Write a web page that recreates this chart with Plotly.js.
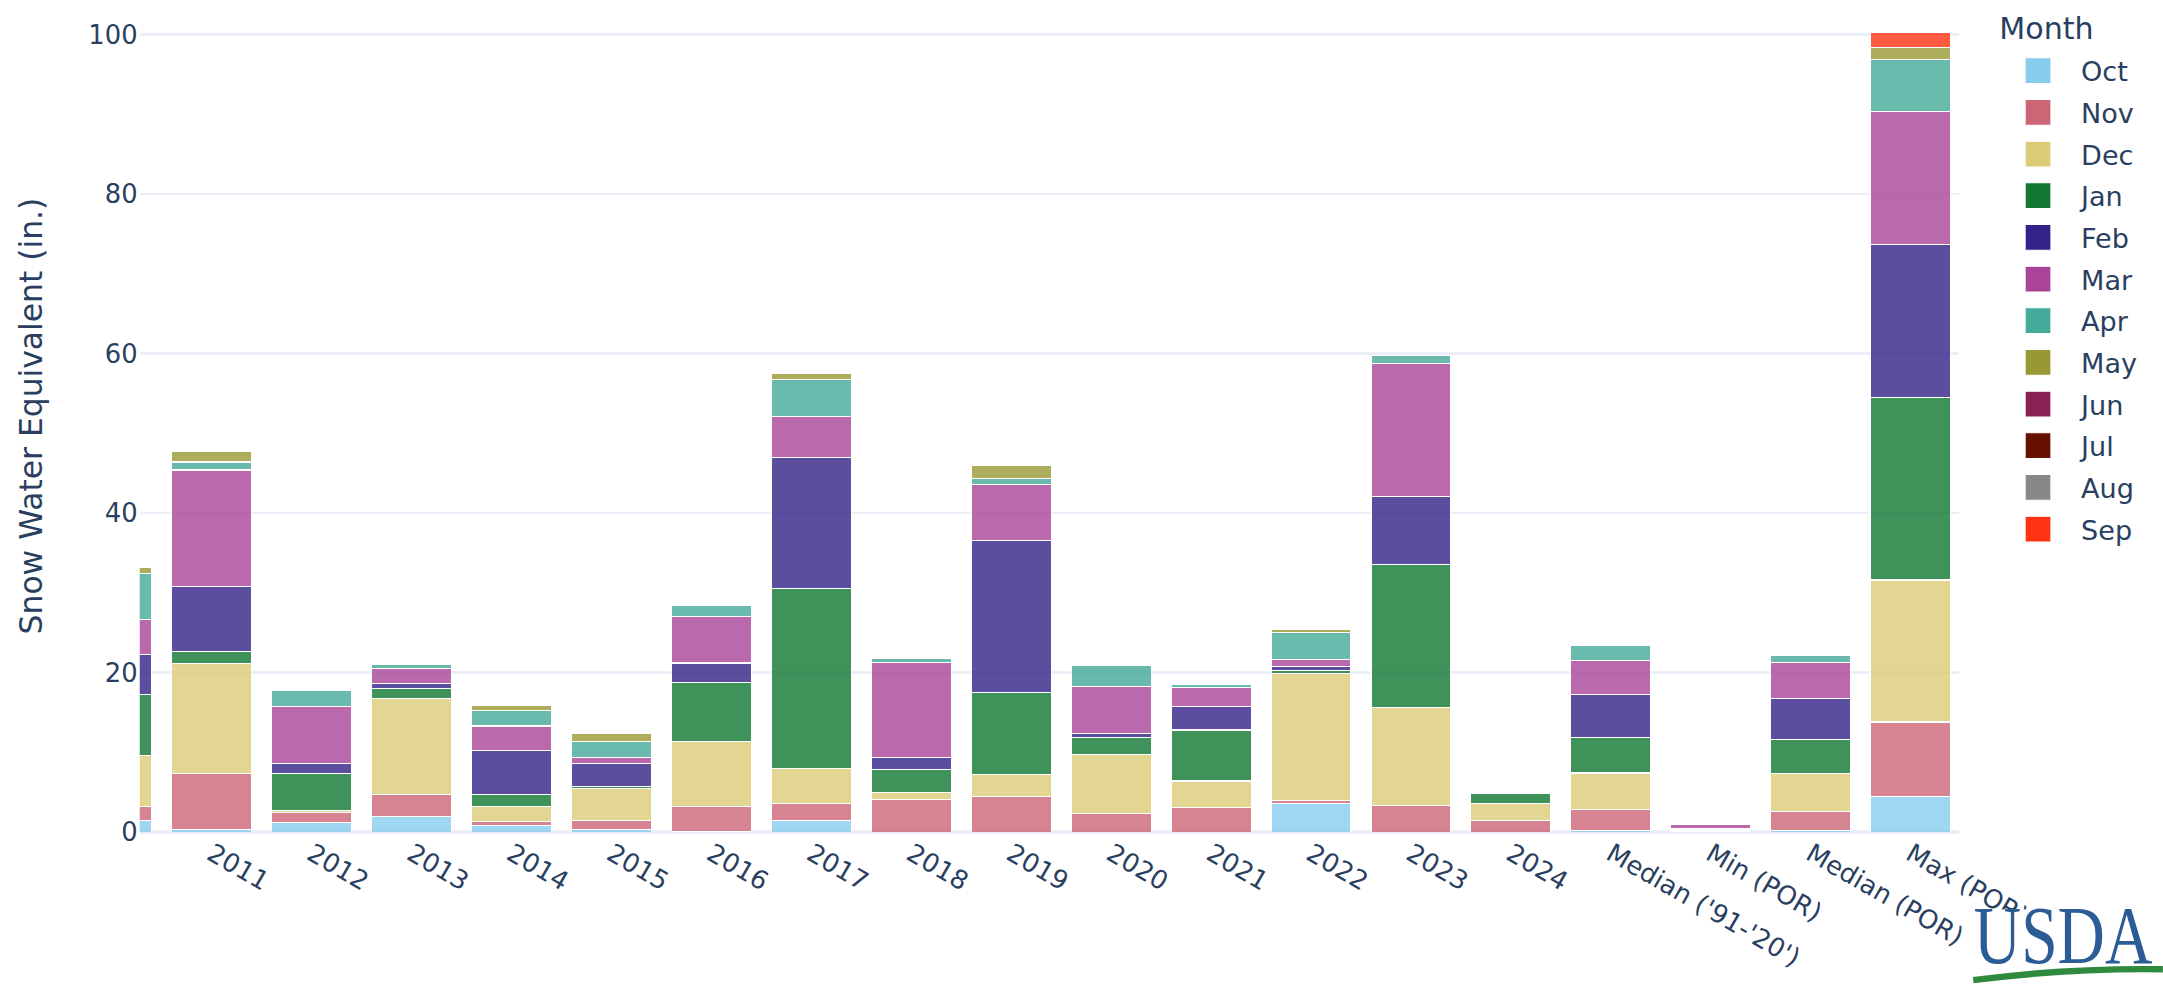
<!DOCTYPE html>
<html>
<head>
<meta charset="utf-8">
<script src="https://cdn.plot.ly/plotly-3.0.1.min.js"></script>
<style>
html, body { margin: 0; padding: 0; background: #ffffff; overflow: hidden; width: 2163px; height: 984px; }
#wrap { position: absolute; left: 0; top: 0; transform-origin: 0 0; }
</style>
</head>
<body>
<div id="wrap"><div id="chart"></div></div>
<script>
// ---- data (inches of SWE added per month) ----
const categories = ["2010", "2011", "2012", "2013", "2014", "2015", "2016", "2017", "2018", "2019",
  "2020", "2021", "2022", "2023", "2024", "Median ('91-'20')", "Min (POR)", "Median (POR)", "Max (POR)"];
const months = ["Oct", "Nov", "Dec", "Jan", "Feb", "Mar", "Apr", "May", "Jun", "Jul", "Aug", "Sep"];
const monthColors = ["#88CCEE", "#CC6677", "#DDCC77", "#117733", "#332288", "#AA4499",
  "#44AA99", "#999933", "#882255", "#661100", "#888888", "#FF3311"];

const octVals = [1.4, 0.3, 1.2, 1.9, 0.8, 0.3, 0.1, 1.5, 0, 0, 0, 0, 3.6, 0, 0, 0.2, 0.1, 0.2, 4.5];
const novVals = [1.8, 7.0, 1.3, 2.8, 0.5, 1.1, 3.1, 2.1, 4.1, 4.5, 2.3, 3.1, 0.4, 3.3, 1.5, 2.6, 0.1, 2.4, 9.3];
const decVals = [6.4, 13.8, 0.2, 12.0, 1.9, 4.1, 8.2, 4.4, 0.9, 2.7, 7.4, 3.3, 15.9, 12.3, 2.1, 4.6, 0.1, 4.7, 17.8];
const janVals = [7.6, 1.5, 4.6, 1.3, 1.5, 0.2, 7.4, 22.5, 2.8, 10.3, 2.2, 6.4, 0.3, 18.0, 1.3, 4.4, 0.1, 4.3, 22.9];
const febVals = [5.1, 8.2, 1.3, 0.6, 5.5, 2.9, 2.4, 16.5, 1.6, 19.1, 0.4, 2.9, 0.6, 8.5, 0, 5.4, 0.1, 5.2, 19.2];
const marVals = [4.4, 14.6, 7.1, 1.9, 3.1, 0.7, 5.8, 5.1, 11.9, 7.0, 5.9, 2.4, 0.8, 16.6, 0, 4.3, 0.4, 4.5, 16.6];
const aprVals = [5.7, 1.0, 2.1, 0.5, 2.0, 2.0, 1.4, 4.6, 0.5, 0.7, 2.7, 0.4, 3.4, 1.1, 0, 1.9, 0.1, 0.8, 6.6];
const mayVals = [0.8, 1.3, 0, 0, 0.6, 1.1, 0, 0.8, 0, 1.7, 0, 0, 0.4, 0, 0, 0, 0, 0, 1.5];
const junVals = [0, 0, 0, 0, 0, 0, 0, 0, 0, 0, 0, 0, 0, 0, 0, 0, 0, 0, 0];
const julVals = [0, 0, 0, 0, 0, 0, 0, 0, 0, 0, 0, 0, 0, 0, 0, 0, 0, 0, 0];
const augVals = [0, 0, 0, 0, 0, 0, 0, 0, 0, 0, 0, 0, 0, 0, 0, 0, 0, 0, 0];
const sepVals = [0, 0, 0, 0, 0, 0, 0, 0, 0, 0, 0, 0, 0, 0, 0, 0, 0, 0, 1.8];
const yTicks = [0, 20, 40, 60, 80, 100];

const series = [octVals, novVals, decVals, janVals, febVals, marVals,
  aprVals, mayVals, junVals, julVals, augVals, sepVals];

// ---- rendering ----
const S = 2.15;                 // page scale factor
const W = 2163 / S, H = 984 / S;
document.getElementById('wrap').style.transform = 'scale(' + S + ')';

const FONT = 'Verdana, "DejaVu Sans", sans-serif';
const TXT = '#2a3f5f';
const LOGO_FS = 32, LOGO_STRETCH = 1.19;

const traces = months.map((m, i) => ({
  type: 'bar',
  name: m,
  x: categories,
  y: series[i],
  marker: { color: monthColors[i], opacity: 0.8, line: { color: '#ffffff', width: 0.5 } },
  hoverinfo: 'skip'
}));

const mL = 139 / S, mR = W - 1959 / S, mT = 0, mB = H - 831.5 / S;

const layout = {
  width: W, height: H,
  margin: { l: mL, r: mR, t: mT, b: mB, autoexpand: false },
  barmode: 'stack',
  bargap: 0.2,
  paper_bgcolor: '#ffffff',
  plot_bgcolor: '#ffffff',
  font: { family: FONT, size: 12, color: TXT },
  showlegend: true,
  legend: {
    title: { text: 'Month', font: { family: FONT, size: 14, color: TXT } },
    font: { family: FONT, size: 12.6, color: TXT },
    x: 1.02, xanchor: 'left', y: 1, yanchor: 'top',
    traceorder: 'normal', bgcolor: 'rgba(0,0,0,0)'
  },
  xaxis: {
    type: 'category',
    range: [0.28, 18.48],
    tickangle: 30,
    tickfont: { family: FONT, size: 12, color: TXT },
    showgrid: false, zeroline: false, showline: false, ticks: ''
  },
  yaxis: {
    range: [0, 104.33],
    tickvals: yTicks,
    tickfont: { family: FONT, size: 12, color: TXT },
    title: { text: 'Snow Water Equivalent (in.)', standoff: 17, font: { family: FONT, size: 14.6, color: TXT } },
    gridcolor: '#EBF0F8', gridwidth: 1,
    zeroline: true, zerolinecolor: '#EBF0F8', zerolinewidth: 2,
    showline: false, ticks: ''
  },
  annotations: [{
    text: 'USDA', showarrow: false,
    xref: 'paper', yref: 'paper', x: 1.0575, y: -0.125, xanchor: 'center', yanchor: 'middle',
    font: { family: '"Liberation Serif", "DejaVu Serif", serif', size: LOGO_FS, color: '#2b5c96' },
    bgcolor: '#ffffff', borderpad: 0
  }],
  shapes: [{
    type: 'path', xref: 'paper', yref: 'paper', layer: 'above',
    path: 'M 1.008,-0.178 Q 1.06,-0.163 1.115,-0.165',
    line: { color: '#2f8a3e', width: 3 }
  }]
};

Plotly.newPlot('chart', traces, layout, { displayModeBar: false, staticPlot: true }).then(function () {
  // give the logo word the tall, condensed look of the original serif logotype
  const t = document.querySelector('.annotation-text');
  if (!t) return;
  t.setAttribute('textLength', '83');
  t.setAttribute('lengthAdjust', 'spacingAndGlyphs');
  const bb = t.getBBox();
  const cy = bb.y + bb.height / 2;
  const prev = t.getAttribute('transform') || '';
  t.setAttribute('transform', (prev + ' translate(0,' + cy + ') scale(1,' + LOGO_STRETCH + ') translate(0,' + (-cy) + ')').trim());
  const r = t.parentNode.querySelector('rect.bg');
  if (r) {
    const capTop = cy + LOGO_STRETCH * ((bb.y + 0.229 * LOGO_FS) - cy);
    r.setAttribute('x', bb.x);
    r.setAttribute('width', bb.width);
    r.setAttribute('y', capTop);
    r.setAttribute('height', LOGO_STRETCH * 0.662 * LOGO_FS);
  }
});
</script>
</body>
</html>
